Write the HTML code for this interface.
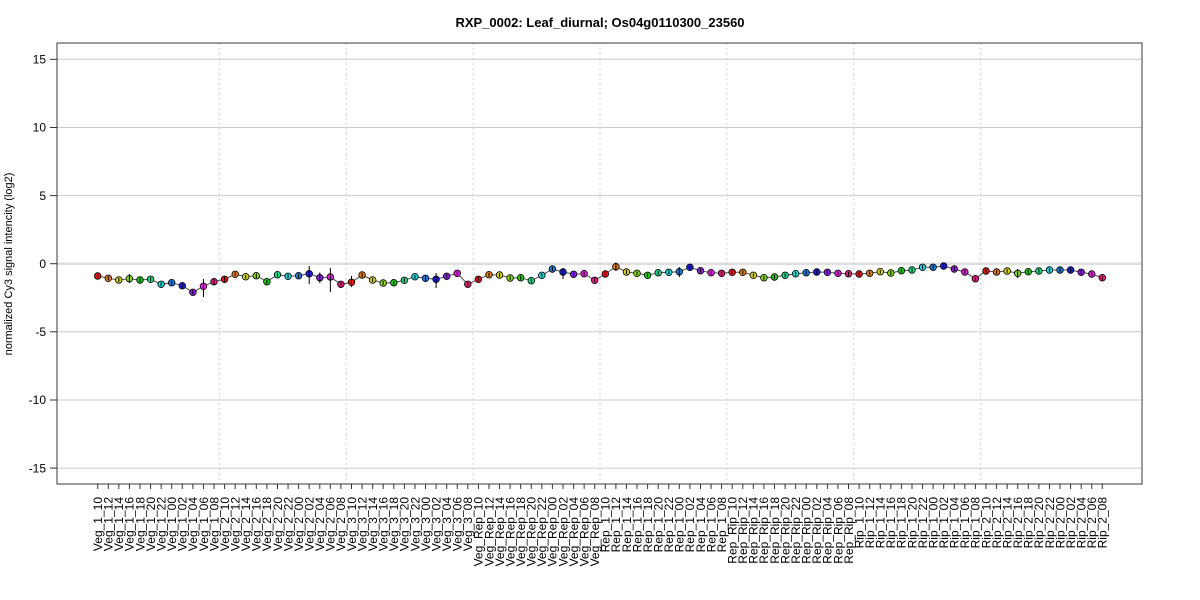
<!DOCTYPE html>
<html><head><meta charset="utf-8"><style>
html,body{margin:0;padding:0;background:#fff;}
svg{display:block;}
.c0{fill:#e8141b}.c1{fill:#e07b1a}.c2{fill:#d6d41a}.c3{fill:#87d91a}.c4{fill:#1ec81e}.c5{fill:#1ed98a}
.c6{fill:#1ed4d4}.c7{fill:#1e7ad9}.c8{fill:#1e1ed9}.c9{fill:#8a1ed9}.c10{fill:#e01ee0}.c11{fill:#e01e7a}
circle{stroke:#000;stroke-width:0.8}
.lab text{font-family:"Liberation Sans",Arial,sans-serif;font-size:12px;fill:#000;text-anchor:end}
</style></head><body>
<svg width="1200" height="600" viewBox="0 0 1200 600" xmlns="http://www.w3.org/2000/svg">
<rect width="1200" height="600" fill="#fff"/>
<text x="600" y="27" text-anchor="middle" font-family="Liberation Sans, Arial, sans-serif" font-weight="bold" font-size="13px" fill="#000">RXP_0002: Leaf_diurnal; Os04g0110300_23560</text>
<!-- grid -->
<g stroke="#cccccc" stroke-width="1">
<line x1="57" x2="1142" y1="59.3" y2="59.3"/>
<line x1="57" x2="1142" y1="127.5" y2="127.5"/>
<line x1="57" x2="1142" y1="195.6" y2="195.6"/>
<line x1="57" x2="1142" y1="331.8" y2="331.8"/>
<line x1="57" x2="1142" y1="400" y2="400"/>
<line x1="57" x2="1142" y1="468.1" y2="468.1"/>
</g>
<line x1="57" x2="1142" y1="263.7" y2="263.7" stroke="#dedede" stroke-width="2.5"/>
<g stroke="#cfcfcf" stroke-width="1" stroke-dasharray="2,3">
<line x1="219.3" x2="219.3" y1="43" y2="484"/>
<line x1="346.2" x2="346.2" y1="43" y2="484"/>
<line x1="473.1" x2="473.1" y1="43" y2="484"/>
<line x1="600" x2="600" y1="43" y2="484"/>
<line x1="726.9" x2="726.9" y1="43" y2="484"/>
<line x1="853.8" x2="853.8" y1="43" y2="484"/>
<line x1="980.7" x2="980.7" y1="43" y2="484"/>
</g>
<!-- box -->
<rect x="57" y="43" width="1085" height="441" fill="none" stroke="#3a3a3a" stroke-width="1"/>
<!-- y axis -->
<g stroke="#333" stroke-width="1">
<line x1="50" x2="57" y1="59.3" y2="59.3"/>
<line x1="50" x2="57" y1="127.5" y2="127.5"/>
<line x1="50" x2="57" y1="195.6" y2="195.6"/>
<line x1="50" x2="57" y1="263.7" y2="263.7"/>
<line x1="50" x2="57" y1="331.8" y2="331.8"/>
<line x1="50" x2="57" y1="400" y2="400"/>
<line x1="50" x2="57" y1="468.1" y2="468.1"/>
</g>
<g font-family="Liberation Sans, Arial, sans-serif" font-size="12px" fill="#000" text-anchor="end">
<text x="46" y="63.5">15</text>
<text x="46" y="131.7">10</text>
<text x="46" y="199.8">5</text>
<text x="46" y="267.9">0</text>
<text x="46" y="336">-5</text>
<text x="46" y="404.2">-10</text>
<text x="46" y="472.3">-15</text>
</g>
<text transform="translate(12,264) rotate(-90)" text-anchor="middle" font-family="Liberation Sans, Arial, sans-serif" font-size="11px" fill="#000">normalized Cy3 signal intencity (log2)</text>
<!-- x ticks -->
<path stroke="#333" stroke-width="1" fill="none" d="M97.7,484V489 M108.3,484V489 M118.85,484V489 M129.4,484V489 M140,484V489 M150.6,484V489 M161.15,484V489 M171.7,484V489 M182.3,484V489 M192.9,484V489 M203.45,484V489 M214,484V489 M224.6,484V489 M235.2,484V489 M245.75,484V489 M256.3,484V489 M266.9,484V489 M277.5,484V489 M288.05,484V489 M298.6,484V489 M309.2,484V489 M319.8,484V489 M330.35,484V489 M340.9,484V489 M351.5,484V489 M362.1,484V489 M372.65,484V489 M383.2,484V489 M393.8,484V489 M404.4,484V489 M414.95,484V489 M425.5,484V489 M436.1,484V489 M446.7,484V489 M457.25,484V489 M467.8,484V489 M478.4,484V489 M489,484V489 M499.55,484V489 M510.1,484V489 M520.7,484V489 M531.3,484V489 M541.85,484V489 M552.4,484V489 M563,484V489 M573.6,484V489 M584.15,484V489 M594.7,484V489 M605.3,484V489 M615.9,484V489 M626.45,484V489 M637,484V489 M647.6,484V489 M658.2,484V489 M668.75,484V489 M679.3,484V489 M689.9,484V489 M700.5,484V489 M711.05,484V489 M721.6,484V489 M732.2,484V489 M742.8,484V489 M753.35,484V489 M763.9,484V489 M774.5,484V489 M785.1,484V489 M795.65,484V489 M806.2,484V489 M816.8,484V489 M827.4,484V489 M837.95,484V489 M848.5,484V489 M859.1,484V489 M869.7,484V489 M880.25,484V489 M890.8,484V489 M901.4,484V489 M912,484V489 M922.55,484V489 M933.1,484V489 M943.7,484V489 M954.3,484V489 M964.85,484V489 M975.4,484V489 M986,484V489 M996.6,484V489 M1007.15,484V489 M1017.7,484V489 M1028.3,484V489 M1038.9,484V489 M1049.45,484V489 M1060,484V489 M1070.6,484V489 M1081.2,484V489 M1091.75,484V489 M1102.3,484V489"/>
<!-- x labels -->
<g class="lab">
<text transform="translate(102,497) rotate(-90)">Veg_1_10</text>
<text transform="translate(112.6,497) rotate(-90)">Veg_1_12</text>
<text transform="translate(123.15,497) rotate(-90)">Veg_1_14</text>
<text transform="translate(133.7,497) rotate(-90)">Veg_1_16</text>
<text transform="translate(144.3,497) rotate(-90)">Veg_1_18</text>
<text transform="translate(154.9,497) rotate(-90)">Veg_1_20</text>
<text transform="translate(165.45,497) rotate(-90)">Veg_1_22</text>
<text transform="translate(176,497) rotate(-90)">Veg_1_00</text>
<text transform="translate(186.6,497) rotate(-90)">Veg_1_02</text>
<text transform="translate(197.2,497) rotate(-90)">Veg_1_04</text>
<text transform="translate(207.75,497) rotate(-90)">Veg_1_06</text>
<text transform="translate(218.3,497) rotate(-90)">Veg_1_08</text>
<text transform="translate(228.9,497) rotate(-90)">Veg_2_10</text>
<text transform="translate(239.5,497) rotate(-90)">Veg_2_12</text>
<text transform="translate(250.05,497) rotate(-90)">Veg_2_14</text>
<text transform="translate(260.6,497) rotate(-90)">Veg_2_16</text>
<text transform="translate(271.2,497) rotate(-90)">Veg_2_18</text>
<text transform="translate(281.8,497) rotate(-90)">Veg_2_20</text>
<text transform="translate(292.35,497) rotate(-90)">Veg_2_22</text>
<text transform="translate(302.9,497) rotate(-90)">Veg_2_00</text>
<text transform="translate(313.5,497) rotate(-90)">Veg_2_02</text>
<text transform="translate(324.1,497) rotate(-90)">Veg_2_04</text>
<text transform="translate(334.65,497) rotate(-90)">Veg_2_06</text>
<text transform="translate(345.2,497) rotate(-90)">Veg_2_08</text>
<text transform="translate(355.8,497) rotate(-90)">Veg_3_10</text>
<text transform="translate(366.4,497) rotate(-90)">Veg_3_12</text>
<text transform="translate(376.95,497) rotate(-90)">Veg_3_14</text>
<text transform="translate(387.5,497) rotate(-90)">Veg_3_16</text>
<text transform="translate(398.1,497) rotate(-90)">Veg_3_18</text>
<text transform="translate(408.7,497) rotate(-90)">Veg_3_20</text>
<text transform="translate(419.25,497) rotate(-90)">Veg_3_22</text>
<text transform="translate(429.8,497) rotate(-90)">Veg_3_00</text>
<text transform="translate(440.4,497) rotate(-90)">Veg_3_02</text>
<text transform="translate(451,497) rotate(-90)">Veg_3_04</text>
<text transform="translate(461.55,497) rotate(-90)">Veg_3_06</text>
<text transform="translate(472.1,497) rotate(-90)">Veg_3_08</text>
<text transform="translate(482.7,497) rotate(-90)">Veg_Rep_10</text>
<text transform="translate(493.3,497) rotate(-90)">Veg_Rep_12</text>
<text transform="translate(503.85,497) rotate(-90)">Veg_Rep_14</text>
<text transform="translate(514.4,497) rotate(-90)">Veg_Rep_16</text>
<text transform="translate(525,497) rotate(-90)">Veg_Rep_18</text>
<text transform="translate(535.6,497) rotate(-90)">Veg_Rep_20</text>
<text transform="translate(546.15,497) rotate(-90)">Veg_Rep_22</text>
<text transform="translate(556.7,497) rotate(-90)">Veg_Rep_00</text>
<text transform="translate(567.3,497) rotate(-90)">Veg_Rep_02</text>
<text transform="translate(577.9,497) rotate(-90)">Veg_Rep_04</text>
<text transform="translate(588.45,497) rotate(-90)">Veg_Rep_06</text>
<text transform="translate(599,497) rotate(-90)">Veg_Rep_08</text>
<text transform="translate(609.6,497) rotate(-90)">Rep_1_10</text>
<text transform="translate(620.2,497) rotate(-90)">Rep_1_12</text>
<text transform="translate(630.75,497) rotate(-90)">Rep_1_14</text>
<text transform="translate(641.3,497) rotate(-90)">Rep_1_16</text>
<text transform="translate(651.9,497) rotate(-90)">Rep_1_18</text>
<text transform="translate(662.5,497) rotate(-90)">Rep_1_20</text>
<text transform="translate(673.05,497) rotate(-90)">Rep_1_22</text>
<text transform="translate(683.6,497) rotate(-90)">Rep_1_00</text>
<text transform="translate(694.2,497) rotate(-90)">Rep_1_02</text>
<text transform="translate(704.8,497) rotate(-90)">Rep_1_04</text>
<text transform="translate(715.35,497) rotate(-90)">Rep_1_06</text>
<text transform="translate(725.9,497) rotate(-90)">Rep_1_08</text>
<text transform="translate(736.5,497) rotate(-90)">Rep_Rip_10</text>
<text transform="translate(747.1,497) rotate(-90)">Rep_Rip_12</text>
<text transform="translate(757.65,497) rotate(-90)">Rep_Rip_14</text>
<text transform="translate(768.2,497) rotate(-90)">Rep_Rip_16</text>
<text transform="translate(778.8,497) rotate(-90)">Rep_Rip_18</text>
<text transform="translate(789.4,497) rotate(-90)">Rep_Rip_20</text>
<text transform="translate(799.95,497) rotate(-90)">Rep_Rip_22</text>
<text transform="translate(810.5,497) rotate(-90)">Rep_Rip_00</text>
<text transform="translate(821.1,497) rotate(-90)">Rep_Rip_02</text>
<text transform="translate(831.7,497) rotate(-90)">Rep_Rip_04</text>
<text transform="translate(842.25,497) rotate(-90)">Rep_Rip_06</text>
<text transform="translate(852.8,497) rotate(-90)">Rep_Rip_08</text>
<text transform="translate(863.4,497) rotate(-90)">Rip_1_10</text>
<text transform="translate(874,497) rotate(-90)">Rip_1_12</text>
<text transform="translate(884.55,497) rotate(-90)">Rip_1_14</text>
<text transform="translate(895.1,497) rotate(-90)">Rip_1_16</text>
<text transform="translate(905.7,497) rotate(-90)">Rip_1_18</text>
<text transform="translate(916.3,497) rotate(-90)">Rip_1_20</text>
<text transform="translate(926.85,497) rotate(-90)">Rip_1_22</text>
<text transform="translate(937.4,497) rotate(-90)">Rip_1_00</text>
<text transform="translate(948,497) rotate(-90)">Rip_1_02</text>
<text transform="translate(958.6,497) rotate(-90)">Rip_1_04</text>
<text transform="translate(969.15,497) rotate(-90)">Rip_1_06</text>
<text transform="translate(979.7,497) rotate(-90)">Rip_1_08</text>
<text transform="translate(990.3,497) rotate(-90)">Rip_2_10</text>
<text transform="translate(1000.9,497) rotate(-90)">Rip_2_12</text>
<text transform="translate(1011.45,497) rotate(-90)">Rip_2_14</text>
<text transform="translate(1022,497) rotate(-90)">Rip_2_16</text>
<text transform="translate(1032.6,497) rotate(-90)">Rip_2_18</text>
<text transform="translate(1043.2,497) rotate(-90)">Rip_2_20</text>
<text transform="translate(1053.75,497) rotate(-90)">Rip_2_22</text>
<text transform="translate(1064.3,497) rotate(-90)">Rip_2_00</text>
<text transform="translate(1074.9,497) rotate(-90)">Rip_2_02</text>
<text transform="translate(1085.5,497) rotate(-90)">Rip_2_04</text>
<text transform="translate(1096.05,497) rotate(-90)">Rip_2_06</text>
<text transform="translate(1106.6,497) rotate(-90)">Rip_2_08</text>
</g>
<!-- series line -->
<polyline fill="none" stroke="#4a4a4a" stroke-width="1" points="97.7,276 108.3,278.3 118.85,280 129.4,278.7 140,280 150.6,279.3 161.15,284.3 171.7,282.7 182.3,285.7 192.9,292.3 203.45,286.3 214,281.7 224.6,279.3 235.2,274.3 245.75,276.7 256.3,275.7 266.9,281.7 277.5,274.7 288.05,276.3 298.6,275.7 309.2,273.7 319.8,277.7 330.35,277 340.9,284.3 351.5,282.3 362.1,275 372.65,280 383.2,283 393.8,282.7 404.4,280.3 414.95,276.7 425.5,278.3 436.1,279.3 446.7,276.3 457.25,273.3 467.8,284.3 478.4,279.3 489,274.7 499.55,275 510.1,278 520.7,277.7 531.3,280.7 541.85,275.3 552.4,269 563,272 573.6,274.3 584.15,273.7 594.7,280.3 605.3,274 615.9,266.7 626.45,272 637,273.3 647.6,275.3 658.2,272.7 668.75,272.3 679.3,271.7 689.9,267.3 700.5,270.7 711.05,272.7 721.6,273.3 732.2,272.3 742.8,272.3 753.35,275.3 763.9,277.7 774.5,277 785.1,275.3 795.65,273.7 806.2,272.7 816.8,272 827.4,272.3 837.95,273.3 848.5,273.7 859.1,274 869.7,273.3 880.25,271.7 890.8,273 901.4,270.7 912,270 922.55,267.3 933.1,267.3 943.7,266 954.3,269 964.85,272 975.4,278.7 986,271 996.6,272 1007.15,271 1017.7,273.3 1028.3,271.7 1038.9,271 1049.45,270 1060,270 1070.6,270 1081.2,272.3 1091.75,274 1102.3,277.7"/>
<!-- points -->
<g>
<circle cx="97.7" cy="276" r="3.3" class="c0"/>
<circle cx="108.3" cy="278.3" r="3.3" class="c1"/>
<circle cx="118.85" cy="280" r="3.3" class="c2"/>
<circle cx="129.4" cy="278.7" r="3.3" class="c3"/>
<circle cx="140" cy="280" r="3.3" class="c4"/>
<circle cx="150.6" cy="279.3" r="3.3" class="c5"/>
<circle cx="161.15" cy="284.3" r="3.3" class="c6"/>
<circle cx="171.7" cy="282.7" r="3.3" class="c7"/>
<circle cx="182.3" cy="285.7" r="3.3" class="c8"/>
<circle cx="192.9" cy="292.3" r="3.3" class="c9"/>
<circle cx="203.45" cy="286.3" r="3.3" class="c10"/>
<circle cx="214" cy="281.7" r="3.3" class="c11"/>
<circle cx="224.6" cy="279.3" r="3.3" class="c0"/>
<circle cx="235.2" cy="274.3" r="3.3" class="c1"/>
<circle cx="245.75" cy="276.7" r="3.3" class="c2"/>
<circle cx="256.3" cy="275.7" r="3.3" class="c3"/>
<circle cx="266.9" cy="281.7" r="3.3" class="c4"/>
<circle cx="277.5" cy="274.7" r="3.3" class="c5"/>
<circle cx="288.05" cy="276.3" r="3.3" class="c6"/>
<circle cx="298.6" cy="275.7" r="3.3" class="c7"/>
<circle cx="309.2" cy="273.7" r="3.3" class="c8"/>
<circle cx="319.8" cy="277.7" r="3.3" class="c9"/>
<circle cx="330.35" cy="277" r="3.3" class="c10"/>
<circle cx="340.9" cy="284.3" r="3.3" class="c11"/>
<circle cx="351.5" cy="282.3" r="3.3" class="c0"/>
<circle cx="362.1" cy="275" r="3.3" class="c1"/>
<circle cx="372.65" cy="280" r="3.3" class="c2"/>
<circle cx="383.2" cy="283" r="3.3" class="c3"/>
<circle cx="393.8" cy="282.7" r="3.3" class="c4"/>
<circle cx="404.4" cy="280.3" r="3.3" class="c5"/>
<circle cx="414.95" cy="276.7" r="3.3" class="c6"/>
<circle cx="425.5" cy="278.3" r="3.3" class="c7"/>
<circle cx="436.1" cy="279.3" r="3.3" class="c8"/>
<circle cx="446.7" cy="276.3" r="3.3" class="c9"/>
<circle cx="457.25" cy="273.3" r="3.3" class="c10"/>
<circle cx="467.8" cy="284.3" r="3.3" class="c11"/>
<circle cx="478.4" cy="279.3" r="3.3" class="c0"/>
<circle cx="489" cy="274.7" r="3.3" class="c1"/>
<circle cx="499.55" cy="275" r="3.3" class="c2"/>
<circle cx="510.1" cy="278" r="3.3" class="c3"/>
<circle cx="520.7" cy="277.7" r="3.3" class="c4"/>
<circle cx="531.3" cy="280.7" r="3.3" class="c5"/>
<circle cx="541.85" cy="275.3" r="3.3" class="c6"/>
<circle cx="552.4" cy="269" r="3.3" class="c7"/>
<circle cx="563" cy="272" r="3.3" class="c8"/>
<circle cx="573.6" cy="274.3" r="3.3" class="c9"/>
<circle cx="584.15" cy="273.7" r="3.3" class="c10"/>
<circle cx="594.7" cy="280.3" r="3.3" class="c11"/>
<circle cx="605.3" cy="274" r="3.3" class="c0"/>
<circle cx="615.9" cy="266.7" r="3.3" class="c1"/>
<circle cx="626.45" cy="272" r="3.3" class="c2"/>
<circle cx="637" cy="273.3" r="3.3" class="c3"/>
<circle cx="647.6" cy="275.3" r="3.3" class="c4"/>
<circle cx="658.2" cy="272.7" r="3.3" class="c5"/>
<circle cx="668.75" cy="272.3" r="3.3" class="c6"/>
<circle cx="679.3" cy="271.7" r="3.3" class="c7"/>
<circle cx="689.9" cy="267.3" r="3.3" class="c8"/>
<circle cx="700.5" cy="270.7" r="3.3" class="c9"/>
<circle cx="711.05" cy="272.7" r="3.3" class="c10"/>
<circle cx="721.6" cy="273.3" r="3.3" class="c11"/>
<circle cx="732.2" cy="272.3" r="3.3" class="c0"/>
<circle cx="742.8" cy="272.3" r="3.3" class="c1"/>
<circle cx="753.35" cy="275.3" r="3.3" class="c2"/>
<circle cx="763.9" cy="277.7" r="3.3" class="c3"/>
<circle cx="774.5" cy="277" r="3.3" class="c4"/>
<circle cx="785.1" cy="275.3" r="3.3" class="c5"/>
<circle cx="795.65" cy="273.7" r="3.3" class="c6"/>
<circle cx="806.2" cy="272.7" r="3.3" class="c7"/>
<circle cx="816.8" cy="272" r="3.3" class="c8"/>
<circle cx="827.4" cy="272.3" r="3.3" class="c9"/>
<circle cx="837.95" cy="273.3" r="3.3" class="c10"/>
<circle cx="848.5" cy="273.7" r="3.3" class="c11"/>
<circle cx="859.1" cy="274" r="3.3" class="c0"/>
<circle cx="869.7" cy="273.3" r="3.3" class="c1"/>
<circle cx="880.25" cy="271.7" r="3.3" class="c2"/>
<circle cx="890.8" cy="273" r="3.3" class="c3"/>
<circle cx="901.4" cy="270.7" r="3.3" class="c4"/>
<circle cx="912" cy="270" r="3.3" class="c5"/>
<circle cx="922.55" cy="267.3" r="3.3" class="c6"/>
<circle cx="933.1" cy="267.3" r="3.3" class="c7"/>
<circle cx="943.7" cy="266" r="3.3" class="c8"/>
<circle cx="954.3" cy="269" r="3.3" class="c9"/>
<circle cx="964.85" cy="272" r="3.3" class="c10"/>
<circle cx="975.4" cy="278.7" r="3.3" class="c11"/>
<circle cx="986" cy="271" r="3.3" class="c0"/>
<circle cx="996.6" cy="272" r="3.3" class="c1"/>
<circle cx="1007.15" cy="271" r="3.3" class="c2"/>
<circle cx="1017.7" cy="273.3" r="3.3" class="c3"/>
<circle cx="1028.3" cy="271.7" r="3.3" class="c4"/>
<circle cx="1038.9" cy="271" r="3.3" class="c5"/>
<circle cx="1049.45" cy="270" r="3.3" class="c6"/>
<circle cx="1060" cy="270" r="3.3" class="c7"/>
<circle cx="1070.6" cy="270" r="3.3" class="c8"/>
<circle cx="1081.2" cy="272.3" r="3.3" class="c9"/>
<circle cx="1091.75" cy="274" r="3.3" class="c10"/>
<circle cx="1102.3" cy="277.7" r="3.3" class="c11"/>
</g>
<!-- error bars -->
<path stroke="#000" stroke-width="1" fill="none" d="M97.7,274V278 M108.3,276.3V280.3 M118.85,278V282 M129.4,274V283 M140,278V282 M150.6,277.3V281.3 M161.15,282.3V286.3 M171.7,280.7V284.7 M182.3,283.7V287.7 M192.9,290.3V294.3 M203.45,279V297 M214,278V285 M224.6,276V283 M235.2,272.3V276.3 M245.75,274.7V278.7 M256.3,273.2V278.2 M266.9,279.7V283.7 M277.5,272.7V276.7 M288.05,274.3V278.3 M298.6,273.7V277.7 M309.2,266V284 M319.8,272.5V283 M330.35,268V292 M340.9,282.3V286.3 M351.5,276V287 M362.1,273V277 M372.65,278V282 M383.2,281V285 M393.8,280.7V284.7 M404.4,278.3V282.3 M414.95,274.7V278.7 M425.5,275V282 M436.1,273V288 M446.7,274.3V278.3 M457.25,271.3V275.3 M467.8,282.3V286.3 M478.4,277.3V281.3 M489,272.7V276.7 M499.55,273V277 M510.1,276V280 M520.7,275.7V279.7 M531.3,278.7V282.7 M541.85,273.3V277.3 M552.4,267V271 M563,268V279 M573.6,272.3V276.3 M584.15,271.7V275.7 M594.7,278.3V282.3 M605.3,272V276 M615.9,262.5V271 M626.45,270V274 M637,271.3V275.3 M647.6,273.3V277.3 M658.2,270.7V274.7 M668.75,270.3V274.3 M679.3,267V277 M689.9,265.3V269.3 M700.5,268.7V272.7 M711.05,270.7V274.7 M721.6,271.3V275.3 M732.2,270.3V274.3 M742.8,270.3V274.3 M753.35,273.3V277.3 M763.9,275.7V279.7 M774.5,275V279 M785.1,273.3V277.3 M795.65,271.7V275.7 M806.2,270.7V274.7 M816.8,270V274 M827.4,270.3V274.3 M837.95,271.3V275.3 M848.5,271.7V275.7 M859.1,272V276 M869.7,271.3V275.3 M880.25,269.7V273.7 M890.8,271V275 M901.4,268.7V272.7 M912,268V272 M922.55,265.3V269.3 M933.1,265.3V269.3 M943.7,264V268 M954.3,267V271 M964.85,270V274 M975.4,276.7V280.7 M986,269V273 M996.6,270V274 M1007.15,269V273 M1017.7,269V278 M1028.3,269.7V273.7 M1038.9,269V273 M1049.45,268V272 M1060,268V272 M1070.6,268V272 M1081.2,270.3V274.3 M1091.75,272V276 M1102.3,275.7V279.7"/>
</svg>
</body></html>
